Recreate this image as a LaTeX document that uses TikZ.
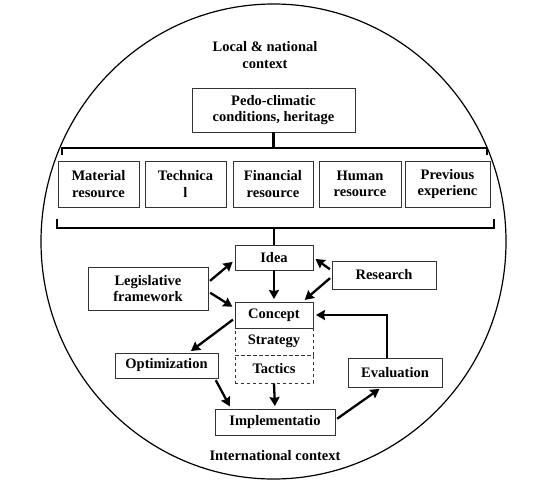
\documentclass[tikz,border=0pt]{standalone}
\usepackage{fontspec}
\setmainfont{Liberation Serif}
\usetikzlibrary{arrows.meta}

\tikzset{
    box/.style={draw=black!80, line width=0.9pt, inner sep=0pt, align=center,
        font=\fontsize{14.5}{16.5}\selectfont\bfseries},
    dashbox/.style={box, dashed},
    link/.style={line width=2.3pt, -{Stealth[length=9pt,width=10pt,inset=1pt]}, shorten >=2.5pt, shorten <=2pt},
    brace/.style={line width=2.2pt}
}

\begin{document}
\begin{tikzpicture}[x=1pt, y=-1pt]
    \useasboundingbox (0,0) rectangle (544,483);
    % context circle
    \draw[line width=1.2pt] (273.5,241.5) ellipse [x radius=232.5, y radius=237.5];
    \node[align=center, font=\fontsize{14.5}{16.5}\selectfont\bfseries] (local) at (265,55)
        {Local \& national\\context};
    \node[font=\fontsize{14.5}{16.5}\selectfont\bfseries] (inter) at (275,456) {International context};

    % resources
    \node[box, minimum width=163pt, minimum height=44pt] (pedo) at (273.5,110) {Pedo-climatic\\conditions, heritage};
    \node[box, minimum width=81pt, minimum height=46pt] (material) at (98.5,184) {Material\\resource};
    \node[box, minimum width=81pt, minimum height=46pt] (technical) at (185.5,184) {Technica\\l};
    \node[box, minimum width=80pt, minimum height=46pt] (financial) at (273,184) {Financial\\resource};
    \node[box, minimum width=82pt, minimum height=46pt] (human) at (360,184) {Human\\resource};
    \node[box, minimum width=85pt, minimum height=46pt] (previous) at (447.5,184) {Previous\\experienc};

    % process
    \node[box, minimum width=78pt, minimum height=25pt] (idea) at (274,257.5) {Idea};
    \node[box, minimum width=120pt, minimum height=43pt] (legis) at (148,288.5) {Legislative\\framework};
    \node[box, minimum width=104pt, minimum height=28pt] (research) at (384,275) {Research};
    \node[dashbox, minimum width=78pt, minimum height=27pt] (strategy) at (274,341.5) {Strategy};
    \node[dashbox, minimum width=78pt, minimum height=28pt] (tactics) at (274,369) {Tactics};
    \node[box, fill=white, minimum width=78pt, minimum height=26pt] (concept) at (274,315) {Concept};
    \node[box, minimum width=103pt, minimum height=25pt] (optim) at (166.5,365.5) {Optimization};
    \node[box, minimum width=94pt, minimum height=29pt] (eval) at (395,372.5) {Evaluation};
    \node[box, minimum width=120pt, minimum height=26pt] (impl) at (275,422) {Implementatio};

    % braces
    \coordinate (tl) at (62,155);
    \coordinate (tr) at (487,155);
    \coordinate (bl) at (57,219);
    \coordinate (br) at (494,219);
    \draw[brace] (tl) -- ++(0,-7) -| (tr);
    \draw[brace] (pedo.south) -- (pedo.south |- 0,148);
    \draw[brace] (bl) -- ++(0,9) -| (br);
    \draw[brace] (idea.north) -- (idea.north |- 0,228);

    % links
    \draw[link] (legis.6) -- (idea.184);
    \draw[link] (legis.-3) -- (concept.170);
    \draw[link] (research.175) -- (idea.east);
    \draw[link] (research.182) -- (concept.25);
    \draw[link, shorten <=0pt] (idea.south) -- (concept.north);
    \draw[link] (concept.185) -- (optim.30);
    \draw[link] (optim.-15) -- (impl.163);
    \draw[link, shorten <=0pt] (tactics.south) -- (impl.north);
    \draw[link] (impl.2) -- (eval.228);
    \draw[link, shorten <=0pt] (eval.119) |- (concept.east);
\end{tikzpicture}
\end{document}
